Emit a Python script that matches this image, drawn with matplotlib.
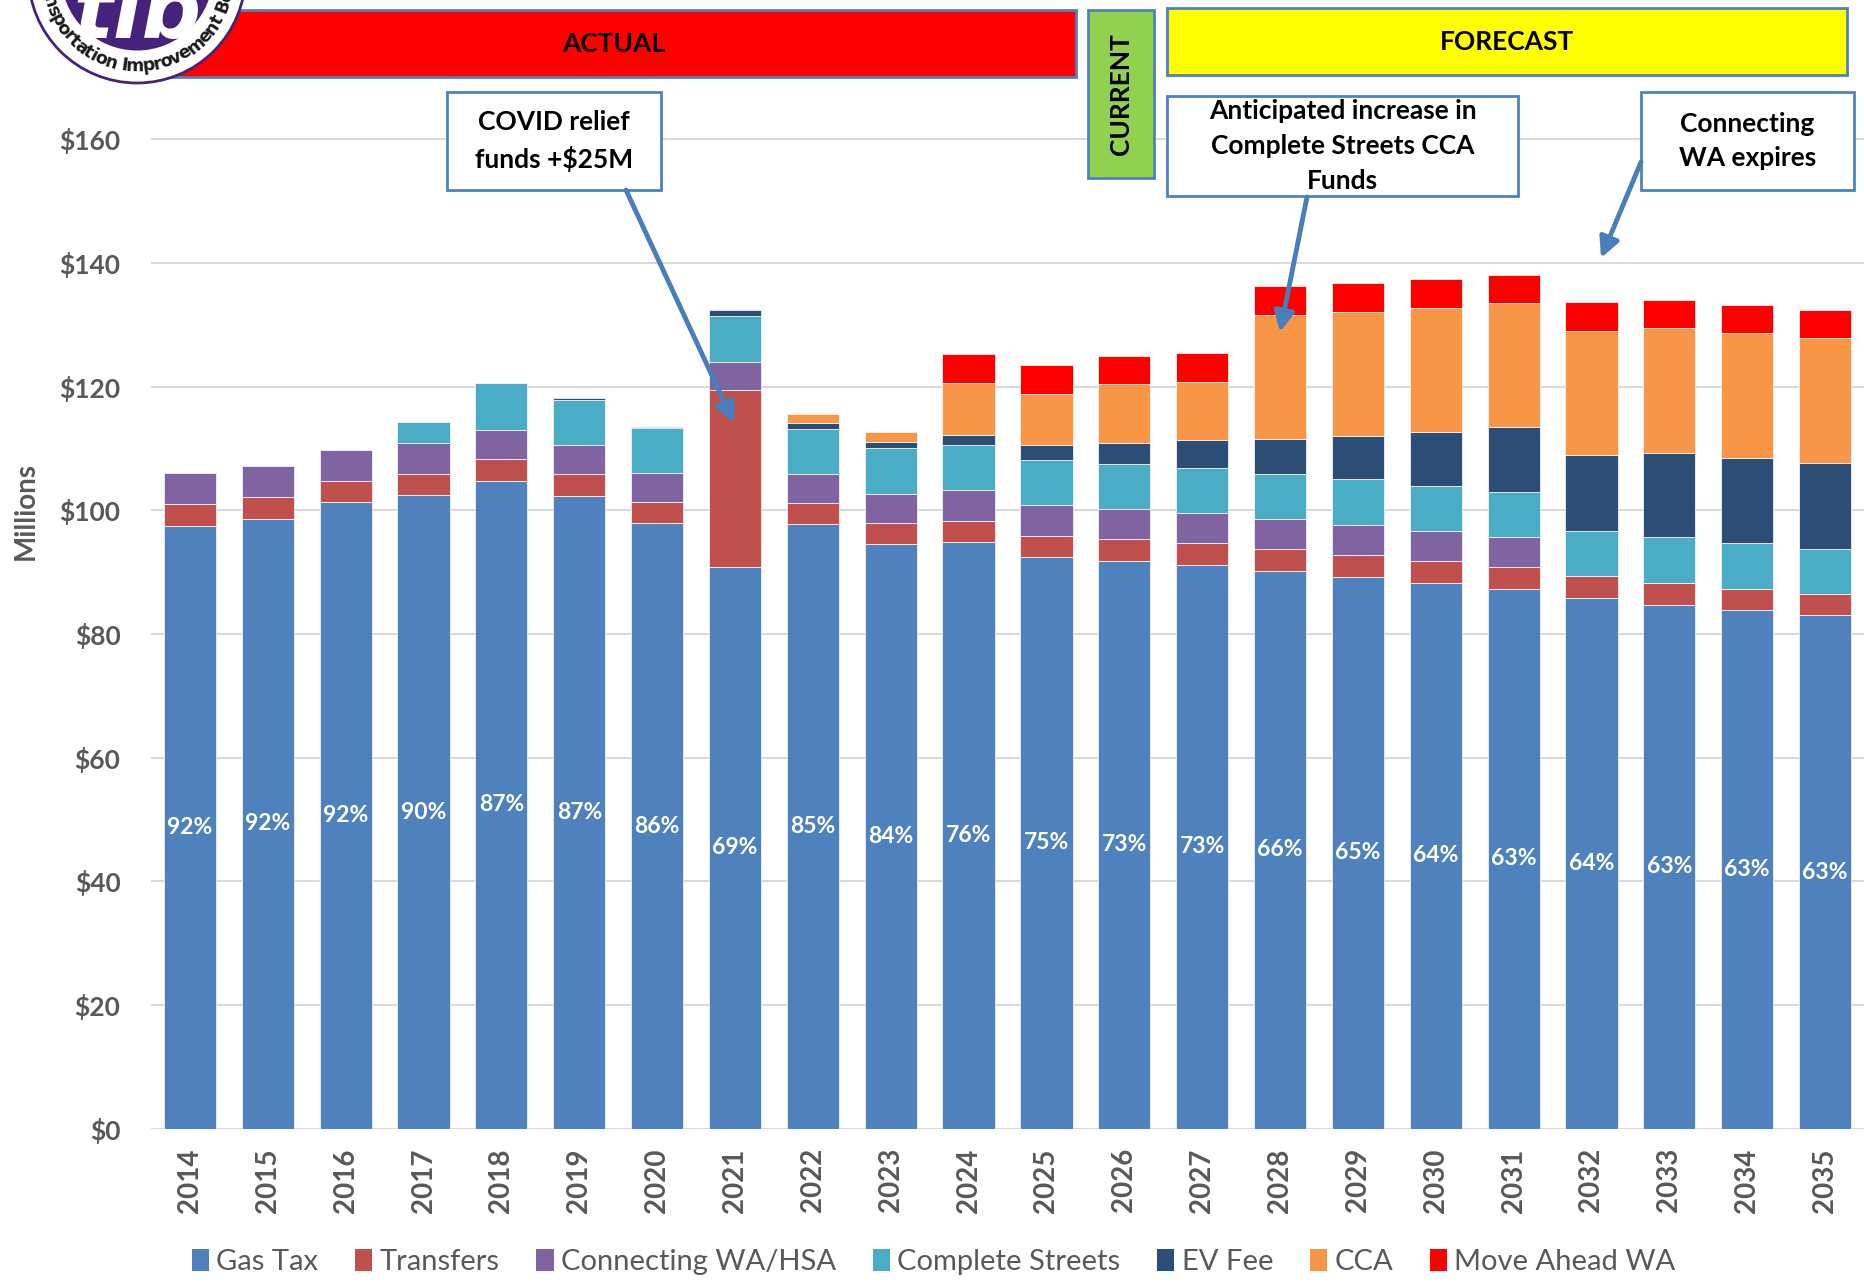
"""TIB revenue by source, actual vs forecast, stacked bars."""

import numpy as np
import matplotlib
matplotlib.use("Agg")
import matplotlib.pyplot as plt
from matplotlib.patches import Rectangle, Circle, Patch

years = [str(y) for y in range(2014, 2036)]
gas_tax = [97.5, 98.6, 101.3, 102.4, 104.8, 102.3, 97.9, 90.9, 97.8, 94.5, 94.9,
           92.5, 91.8, 91.2, 90.25, 89.2, 88.3, 87.35, 85.8, 84.7, 83.9, 83.0]
transfers = [3.5, 3.5, 3.5, 3.5, 3.5, 3.6, 3.5, 28.5, 3.4, 3.5, 3.4,
             3.4, 3.6, 3.5, 3.5, 3.6, 3.5, 3.5, 3.5, 3.6, 3.4, 3.5]
connecting = [5.0, 5.0, 5.0, 5.0, 4.6, 4.6, 4.65, 4.6, 4.7, 4.65, 4.9,
              4.9, 4.8, 4.9, 4.85, 4.8, 4.8, 4.75, 0, 0, 0, 0]
complete_streets = [0, 0, 0, 3.4, 7.6, 7.4, 7.2, 7.4, 7.3, 7.35, 7.4,
                    7.4, 7.35, 7.3, 7.3, 7.4, 7.4, 7.4, 7.4, 7.3, 7.4, 7.3]
ev_fee = [0, 0, 0, 0, 0.1, 0.3, 0.2, 0.9, 0.9, 1.1, 1.6,
          2.3, 3.25, 4.4, 5.7, 7.0, 8.6, 10.4, 12.2, 13.7, 13.8, 13.9]
cca = [0, 0, 0, 0, 0, 0, 0, 0, 1.5, 1.5, 8.3,
       8.35, 9.6, 9.5, 20.0, 20.1, 20.1, 20.1, 20.1, 20.1, 20.1, 20.1]
move_ahead = [0, 0, 0, 0, 0, 0, 0, 0, 0, 0, 4.7,
              4.65, 4.6, 4.7, 4.7, 4.7, 4.65, 4.6, 4.6, 4.6, 4.6, 4.65]
gas_share = ["92%", "92%", "92%", "90%", "87%", "87%", "86%", "69%", "85%", "84%", "76%",
             "75%", "73%", "73%", "66%", "65%", "64%", "63%", "64%", "63%", "63%", "63%"]

series = [
    ("Gas Tax", gas_tax, "#4F81BD"),
    ("Transfers", transfers, "#C0504D"),
    ("Connecting WA/HSA", connecting, "#8064A2"),
    ("Complete Streets", complete_streets, "#4BACC6"),
    ("EV Fee", ev_fee, "#2C4D75"),
    ("CCA", cca, "#F79646"),
    ("Move Ahead WA", move_ahead, "#FF0000"),
]

FONT = "Lato"
GRAY = "#595959"
W, H = 1865, 1282

fig = plt.figure(figsize=(W / 100, H / 100), dpi=100)
ax = fig.add_axes([151 / W, 1 - 1128.8 / H, (1864 - 151) / W, (1128.8 - 77.3) / H])

x = np.arange(len(years))
bottom = np.zeros(len(years))
for name, vals, color in series:
    vals = np.array(vals, dtype=float)
    bars = ax.bar(x, vals, 0.67, bottom=bottom, color=color,
                  edgecolor="#f2f2f2", linewidth=0.6, zorder=3)
    for b, v in zip(bars, vals):
        if v == 0:
            b.set_visible(False)
    bottom += vals

# gas tax share labels, centred in the gas tax segment
for i, lab in enumerate(gas_share):
    ax.text(x[i], gas_tax[i] / 2, lab, ha="center", va="center", color="white",
            fontsize=16.5, fontweight="bold", family=FONT, zorder=4)

ax.set_xlim(-0.5, len(years) - 0.5)
ax.set_ylim(0, 170)
ax.set_yticks(range(0, 161, 20))
ax.set_yticklabels([f"${v}" for v in range(0, 161, 20)])
ax.set_xticks(x)
ax.set_xticklabels(years, rotation=90)
ax.tick_params(axis="y", length=0, pad=22, labelsize=19, labelcolor=GRAY)
ax.tick_params(axis="x", length=0, pad=14, labelsize=20, labelcolor=GRAY)
for lab in ax.get_xticklabels() + ax.get_yticklabels():
    lab.set_fontweight("bold")
    lab.set_family(FONT)
ax.grid(True, axis="y", color="#D9D9D9", linewidth=1.5, zorder=0)
for s in ax.spines.values():
    s.set_visible(False)

fig.text(26 / W, 1 - 511 / H, "Millions", rotation=90, ha="center", va="center",
         fontsize=20, fontweight="bold", color=GRAY, family=FONT)

proxies = [Patch(facecolor=c, label=n) for n, _, c in series]
fig.legend(handles=proxies, loc="center", bbox_to_anchor=(785 * 1.1894 / W, 1 - 1262 / H),
           ncol=7, frameon=False, handlelength=0.6, handleheight=0.75,
           handletextpad=0.25, columnspacing=1.25, labelcolor=GRAY,
           prop={"family": FONT, "size": 21})

# overlay in pixel coordinates for header boxes, callouts and logo
ov = fig.add_axes([0, 0, 1, 1], zorder=5)
ov.set_xlim(0, W)
ov.set_ylim(H, 0)
ov.axis("off")
ov.patch.set_visible(False)

EDGE = "#4F81BD"


def box(x0, y0, x1, y1, face, text=None, rot=0, size=19):
    ov.add_patch(Rectangle((x0, y0), x1 - x0, y1 - y0, facecolor=face,
                           edgecolor=EDGE, linewidth=2))
    if text:
        ov.text((x0 + x1) / 2, (y0 + y1) / 2, text, ha="center", va="center",
                rotation=rot, fontsize=size, fontweight="bold", family=FONT,
                linespacing=1.55)


box(151, 10, 1076, 77, "#FF0000", "ACTUAL")
box(1088, 10, 1154, 178, "#92D050", "CURRENT", rot=90)
box(1167, 8, 1847, 75, "#FFFF00", "FORECAST")
box(447, 92, 661, 190, "white", "COVID relief\nfunds +$25M")
box(1167, 96, 1518, 196, "white", "Anticipated increase in\nComplete Streets CCA\nFunds")
box(1641, 92, 1854, 190, "white", "Connecting\nWA expires")

arrow = dict(arrowstyle="-|>", color="#4A7EBB", lw=3.5, mutation_scale=30,
             shrinkA=0, shrinkB=0)
ov.annotate("", xy=(734, 423), xytext=(626, 190), arrowprops=arrow)
ov.annotate("", xy=(1280, 332), xytext=(1307, 197), arrowprops=arrow)
ov.annotate("", xy=(1601, 258), xytext=(1641, 162), arrowprops=arrow)

# logo, mostly cut off at the top left
cx, cy = 137, -25.5
ov.add_patch(Circle((cx, cy), 108.5, facecolor="white", edgecolor="#46237A", linewidth=2))
inner = Circle((cx, cy), 76, facecolor="#46237A", edgecolor="none")
ov.add_patch(inner)
tib = ov.text(cx, 38, "tib", ha="center", va="baseline", fontsize=60, color="white",
              fontweight="bold", style="italic", family="DejaVu Sans")
tib.set_clip_path(inner)

ring = "Transportation Improvement Board"
char_w = {"T": .68, "r": .49, "a": .68, "n": .71, "s": .6, "p": .72, "o": .69,
          "t": .48, "i": .34, " ": .35, "I": .37, "m": 1.04, "v": .65, "e": .68,
          "B": .76, "d": .72}
widths = np.array([char_w[c] for c in ring])
centres = np.cumsum(widths) - widths / 2
for i, ch in enumerate(ring):
    phi = 98 - 9.6 * (centres[i] - centres[15])
    r = np.radians(phi)
    ov.text(cx + 92 * np.cos(r), cy + 92 * np.sin(r), ch, ha="center", va="center",
            rotation=90 - phi, fontsize=12.5, fontweight="bold", color="#1a1a1a",
            family="DejaVu Sans")

fig.savefig("out.png", dpi=100)
plt.close(fig)
